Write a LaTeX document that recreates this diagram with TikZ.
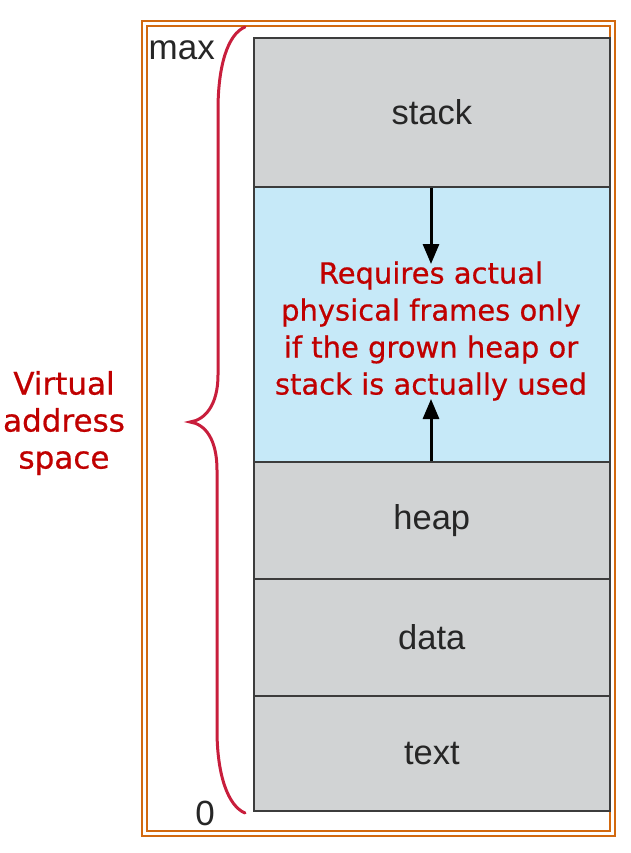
\documentclass[tikz,border=0pt]{standalone}
\usepackage{fontspec}
\setmainfont{Liberation Sans}
\newfontfamily\redfont[FakeBold=0.6]{DejaVu Sans}
\usetikzlibrary{arrows.meta}
\definecolor{boxgray}{RGB}{209,211,212}
\definecolor{boxblue}{RGB}{198,233,248}
\definecolor{edgegray}{RGB}{60,60,60}
\definecolor{bordero}{RGB}{210,105,15}
\definecolor{bracered}{RGB}{200,30,60}
\definecolor{textred}{RGB}{192,0,0}
\tikzset{
  seg/.style={draw=edgegray, line width=1.6pt, fill=boxgray, minimum width=356pt, inner sep=0pt, font=\fontsize{34.5}{36}\selectfont, text=black!85},
  growarrow/.style={line width=3pt, -{Triangle[length=20pt,width=16pt]}},
  redtext/.style={text=textred, align=center, font=\redfont\fontsize{29}{37}\selectfont},
  axislabel/.style={font=\fontsize{35}{36}\selectfont, text=black!85, inner sep=0pt},
}
\begin{document}
\begin{tikzpicture}[x=1pt,y=-1pt]
\useasboundingbox (0,0) rectangle (630,853);
% double border
\draw[bordero, line width=2pt] (142,21) rectangle (615,836);
\draw[bordero, line width=2pt] (147,26) rectangle (610,831);
% segments
\node[seg, minimum height=149pt, anchor=north west] (stack) at (253,37) {stack};
\node[seg, fill=boxblue, minimum height=275pt, anchor=north west] (free) at (253,186) {};
\node[seg, minimum height=117pt, anchor=north west] (heap) at (253,461) {heap};
\node[seg, minimum height=117pt, anchor=north west] (data) at (253,578) {data};
\node[seg, minimum height=115pt, anchor=north west] (text) at (253,695) {text};
% arrows
\coordinate (downend) at (431,264);
\coordinate (upend) at (431,399);
\draw[growarrow] (stack.south -| downend) -- (downend);
\draw[growarrow] (heap.north -| upend) -- (upend);
% red text
\node[redtext] (req) at (431,331) {Requires actual\\physical frames only\\if the grown heap or\\stack is actually used};
% axis labels
\node[axislabel, anchor=base east] (max) at (215,60) {max};
\node[axislabel, anchor=base east] (zero) at (215,825) {0};
% brace
\draw[bracered, line width=3pt, line cap=round]
  (245,27) .. controls (228,34) and (218,65) .. (218,110)
  -- (218,375) .. controls (218,405) and (205,420) .. (190,422)
  .. controls (205,424) and (217,439) .. (217,470)
  -- (217,730) .. controls (217,775) and (228,806) .. (245,813);
\node[redtext, font=\redfont\fontsize{31}{37}\selectfont] (vas) at (64,423) {Virtual\\address\\space};
\end{tikzpicture}
\end{document}
